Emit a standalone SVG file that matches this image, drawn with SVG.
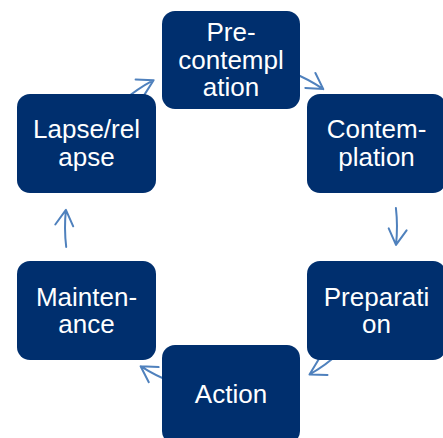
<svg xmlns="http://www.w3.org/2000/svg" width="443" height="438" viewBox="0 0 443 438">
<style>
.box{fill:#002F6E;}
.lbl{font-family:"Liberation Sans",Arial,sans-serif;font-size:26px;fill:#fff;text-anchor:middle;}
.c{fill:none;stroke:#4F81BD;stroke-width:2;stroke-linecap:round;stroke-linejoin:round;}
</style>
<rect width="443" height="438" fill="#fff"/>
<g id="connectors">
<path class="c" d="M66.2,246.9 A166,166 0 0 1 65.9,209.9 M73.2,226.3 L65.9,209.9 L55.3,224.5"/>
<path class="c" d="M123,101 A166,166 0 0 1 153.6,80.2 M144,95.4 L153.6,80.2 L135.6,79.5"/>
<path class="c" d="M290.5,72 A166,166 0 0 1 323.3,89.1 M305.3,87.9 L323.3,89.1 L315.4,73"/>
<path class="c" d="M395.9,207.9 A166,166 0 0 1 396,244.9 M388.7,228.4 L396,244.9 L406.6,230.4"/>
<path class="c" d="M339.7,352.5 A166,166 0 0 1 309.5,374.5 M318.9,359 L309.5,374.5 L327.5,375"/>
<path class="c" d="M173.7,382.8 A166,166 0 0 1 140.6,366.2 M158.6,367.1 L140.6,366.2 L148.8,382.2"/>
</g>
<g id="precontemplation">
<rect class="box" x="162" y="11" width="138" height="98" rx="13"/>
<text class="lbl" x="231" y="41">Pre-</text>
<text class="lbl" x="231" y="68.5">contempl</text>
<text class="lbl" x="231" y="96">ation</text>
</g>
<g id="contemplation">
<rect class="box" x="307" y="94" width="139" height="99" rx="13"/>
<text class="lbl" x="376.5" y="138">Contem-</text>
<text class="lbl" x="376.5" y="166">plation</text>
</g>
<g id="preparation">
<rect class="box" x="307" y="261" width="139" height="99" rx="13"/>
<text class="lbl" x="376.5" y="306">Preparati</text>
<text class="lbl" x="376.5" y="333">on</text>
</g>
<g id="action">
<rect class="box" x="162" y="345" width="138" height="99" rx="13"/>
<text class="lbl" x="231" y="403">Action</text>
</g>
<g id="maintenance">
<rect class="box" x="17" y="261" width="139" height="99" rx="13"/>
<text class="lbl" x="86.5" y="306">Mainten-</text>
<text class="lbl" x="86.5" y="333">ance</text>
</g>
<g id="lapse">
<rect class="box" x="17" y="94" width="139" height="99" rx="13"/>
<text class="lbl" x="86.5" y="138">Lapse/rel</text>
<text class="lbl" x="86.5" y="166">apse</text>
</g>
</svg>
